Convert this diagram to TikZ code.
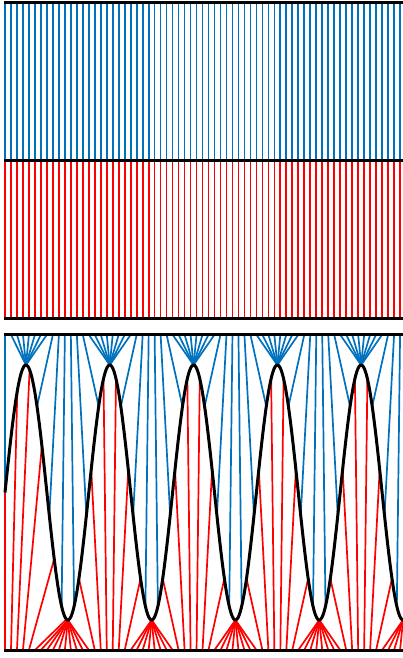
\documentclass[tikz,border=0pt]{standalone}
\usepackage{xcolor}
\definecolor{bleu}{RGB}{0,114,189}
\definecolor{rouge}{RGB}{255,0,0}
\tikzset{
  bord/.style       = {line width=3pt},
  courbe/.style     = {line width=3pt, line join=round},
  fibrebleue/.style = {bleu, line width=1.7pt},
  fibrerouge/.style = {rouge, line width=1.7pt}
}
% geometrie (en px)
\def\xo{5}      % premiere fibre
\def\per{83.8}  % periode de l'onde
\def\ymil{492.5}
\def\ampl{127.5}
\def\pente{12.3} % ecartement des fibres hors des faisceaux
\def\seuil{3.6}  % demi-largeur d'un faisceau (en fibres)
\begin{document}
\begin{tikzpicture}[x=1pt, y=-1pt]
  \useasboundingbox (0,0) rectangle (403,658);

  % --- etat initial : interface plane
  \foreach \i in {0,...,66} {
    \pgfmathsetmacro\xa{\xo+\i*\per/14}
    \coordinate (h\i) at (\xa,2.5);
    \coordinate (m\i) at (\xa,160.5);
    \coordinate (b\i) at (\xa,318);
    \draw[fibrebleue] (h\i) -- (m\i);
    \draw[fibrerouge] (m\i) -- (b\i);
  }

  % --- etat deforme : interface sinusoidale
  \foreach \i in {0,...,66} {
    \pgfmathsetmacro\dx{\per/14}
    \pgfmathsetmacro\xa{\xo+\i*\dx}
    % fibres bleues : faisceau sur chaque crete
    \pgfmathsetmacro\nb{round((\i-3.5)/14)}
    \pgfmathsetmacro\sb{\i-3.5-14*\nb}
    \pgfmathsetmacro\cb{ifthenelse(\i==0, \xo,
        \xo+(3.5+14*\nb)*\dx+sign(\sb)*max(0,abs(\sb)-\seuil)*\pente)}
    % fibres rouges : faisceau dans chaque creux
    \pgfmathsetmacro\nr{round((\i-10.5)/14)}
    \pgfmathsetmacro\sr{\i-10.5-14*\nr}
    \pgfmathsetmacro\cr{ifthenelse(\i<11,
        min(\xo+\i*\pente, \xo+10.5*\dx),
        \xo+(10.5+14*\nr)*\dx+sign(\sr)*max(0,abs(\sr)-\seuil)*\pente)}
    \pgfmathsetmacro\yb{\ymil-\ampl*sin((360/\per)*(\cb-\xo))}
    \pgfmathsetmacro\yr{\ymil-\ampl*sin((360/\per)*(\cr-\xo))}
    \coordinate (dh\i) at (\xa,334.7);
    \coordinate (db\i) at (\xa,650);
    \coordinate (ib\i) at (\cb,\yb);
    \coordinate (ir\i) at (\cr,\yr);
    \draw[fibrebleue] (dh\i) -- (ib\i);
    \draw[fibrerouge] (ir\i) -- (db\i);
  }
  \draw[courbe] plot[domain=\xo:403.05, samples=500]
    (\x, {\ymil-\ampl*sin((360/\per)*(\x-\xo))});

  % --- bords
  \foreach \y in {2.5,160.5,318,334.7,650}
    \draw[bord] (4,\y) -- (403,\y);
\end{tikzpicture}
\end{document}
